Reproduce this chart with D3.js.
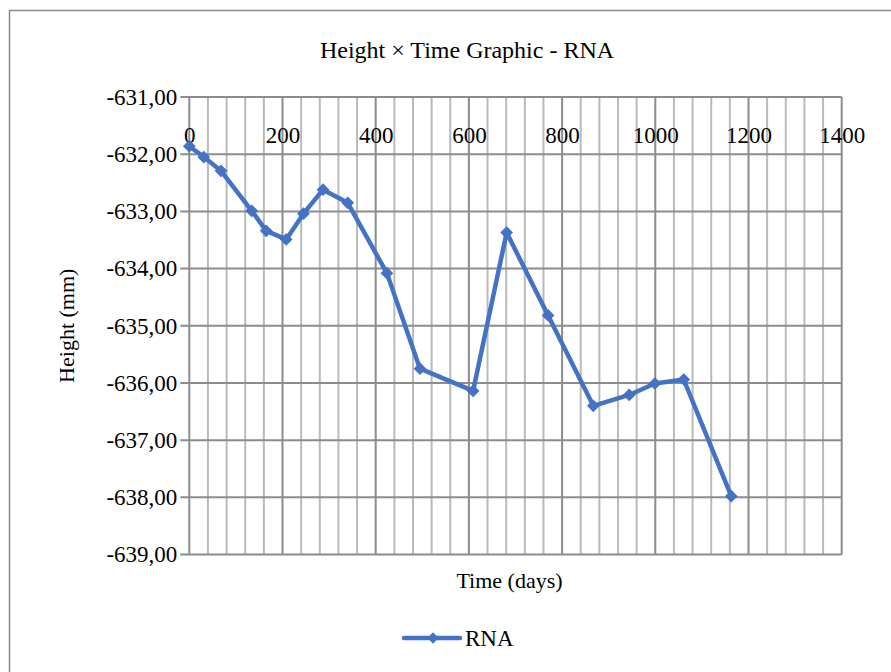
<!DOCTYPE html>
<html>
<head>
<meta charset="utf-8">
<script src="https://cdn.jsdelivr.net/npm/d3@7"></script>
<style>
  html, body { margin: 0; padding: 0; background: #fff; }
  svg { display: block; font-family: "Liberation Serif", "Times New Roman", serif; }
</style>
</head>
<body>
<svg id="chart" width="891" height="672"></svg>
<script>
// ---- data ----
const days   = [0, 31, 68, 134, 165, 208, 245, 287, 340, 424, 495, 609, 681, 770, 867, 944, 999, 1061, 1163];
const height = [-631.86, -632.05, -632.29, -632.99, -633.34, -633.49, -633.04, -632.62, -632.85, -634.08,
                 -635.75, -636.14, -633.37, -634.82, -636.40, -636.21, -636.01, -635.94, -637.98];
const xTicks = [0, 200, 400, 600, 800, 1000, 1200, 1400];
const yTicks = [-631, -632, -633, -634, -635, -636, -637, -638, -639];
const seriesName = "RNA";
const title = "Height \u00d7 Time Graphic - RNA";
const xTitle = "Time (days)";
const yTitle = "Height (mm)";

const svg = d3.select("#chart");
const L = 189.3, R = 841.7, T = 97, B = 554.5;
const x = d3.scaleLinear().domain([0, 1400]).range([L, R]);
const y = d3.scaleLinear().domain([-639, -631]).range([B, T]);
const blue = "#4472C4";

// outer border
svg.append("rect").attr("x", 9.5).attr("y", 10.5).attr("width", 900).attr("height", 700)
  .attr("fill", "none").attr("stroke", "#898989").attr("stroke-width", 1.5);

// title
svg.append("text").attr("x", 467).attr("y", 58).attr("text-anchor", "middle")
  .attr("font-size", 24).attr("fill", "#000").text(title);

const grid = svg.append("g");
// minor vertical gridlines every 40
const minor = d3.range(0, 1401, 40).filter(v => v % 200 !== 0);
grid.selectAll("line.minor").data(minor).join("line")
  .attr("x1", d => x(d)).attr("x2", d => x(d)).attr("y1", T).attr("y2", B)
  .attr("stroke", "#bababa").attr("stroke-width", 2);
// horizontal gridlines
grid.selectAll("line.h").data(yTicks).join("line")
  .attr("x1", L - 9).attr("x2", R).attr("y1", d => y(d)).attr("y2", d => y(d))
  .attr("stroke", "#8c8c8c").attr("stroke-width", 2);
// major vertical gridlines
grid.selectAll("line.major").data(xTicks).join("line")
  .attr("x1", d => x(d)).attr("x2", d => x(d)).attr("y1", T).attr("y2", B)
  .attr("stroke", "#8c8c8c").attr("stroke-width", 2);

// y axis labels
const yAxis = d3.axisLeft(y).tickValues(yTicks).tickSize(0).tickPadding(0)
  .tickFormat(d => d3.format(".2f")(d).replace(".", ",").replace("\u2212", "-"));
const gy = svg.append("g").attr("transform", `translate(${L - 12},0)`).call(yAxis);
gy.select(".domain").remove();
gy.selectAll("text").attr("font-size", 23).attr("fill", "#000")
  .attr("font-family", "Liberation Serif, Times New Roman, serif");

// x axis labels (placed near top as in the reference)
const xAxis = d3.axisBottom(x).tickValues(xTicks).tickSize(0).tickPadding(0).tickFormat(d3.format("d"));
const gx = svg.append("g").attr("transform", `translate(0,${127})`).call(xAxis);
gx.select(".domain").remove();
gx.selectAll("text").attr("font-size", 23).attr("fill", "#000")
  .attr("font-family", "Liberation Serif, Times New Roman, serif");

// axis titles
svg.append("text").attr("x", (L + R) / 2 - 6).attr("y", 588).attr("text-anchor", "middle")
  .attr("font-size", 22).attr("fill", "#000").text(xTitle);
svg.append("text").attr("transform", `translate(74,${(T + B) / 2}) rotate(-90)`)
  .attr("text-anchor", "middle").attr("font-size", 22).attr("fill", "#000").text(yTitle);

// series
const pts = days.map((d, i) => [d, height[i]]);
svg.append("path").datum(pts)
  .attr("d", d3.line().x(d => x(d[0])).y(d => y(d[1])))
  .attr("fill", "none").attr("stroke", blue).attr("stroke-width", 4.5)
  .attr("stroke-linejoin", "round").attr("stroke-linecap", "round");
svg.selectAll("path.pt").data(pts).join("path")
  .attr("d", d3.symbol().type(d3.symbolSquare).size(64))
  .attr("transform", d => `translate(${x(d[0])},${y(d[1])}) rotate(45)`)
  .attr("fill", blue).attr("stroke", blue).attr("stroke-width", 1);

// legend
const lg = svg.append("g");
lg.append("line").attr("x1", 404).attr("x2", 460).attr("y1", 638).attr("y2", 638)
  .attr("stroke", blue).attr("stroke-width", 4.5).attr("stroke-linecap", "round");
lg.append("path").attr("d", d3.symbol().type(d3.symbolSquare).size(64))
  .attr("transform", "translate(433,638) rotate(45)").attr("fill", blue);
lg.append("text").attr("x", 465).attr("y", 646).attr("font-size", 23).attr("fill", "#000").text(seriesName);
</script>
</body>
</html>
